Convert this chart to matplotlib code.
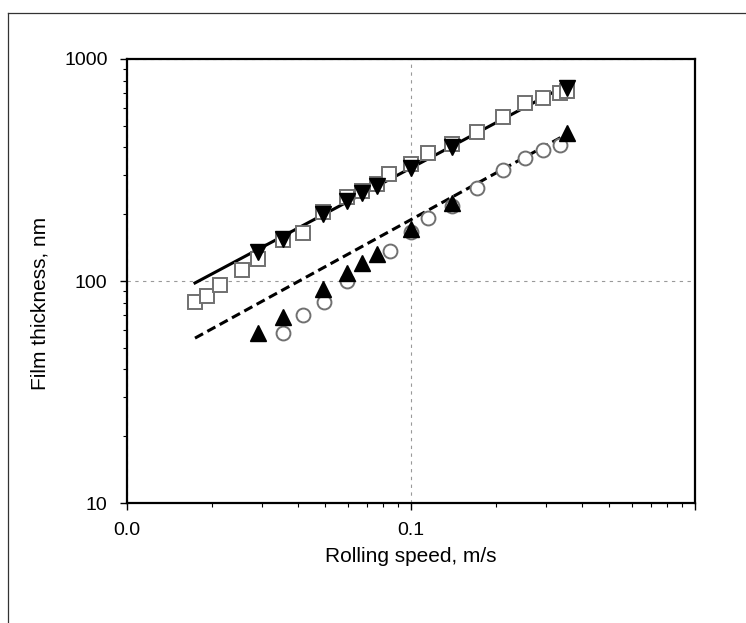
import numpy as np
import matplotlib
matplotlib.use('Agg')
import matplotlib.pyplot as plt
from matplotlib.lines import Line2D
from matplotlib.ticker import FixedLocator, FixedFormatter, LogLocator, NullFormatter

plt.rcParams['font.family'] = ['Liberation Sans', 'DejaVu Sans']

# open squares
sq_x = [0.01736, 0.01913, 0.02126, 0.02541, 0.02893, 0.03541, 0.04166, 0.04899, 0.05953,
        0.06723, 0.07593, 0.08366, 0.1, 0.1148, 0.1394, 0.1708, 0.2109, 0.2520, 0.2915, 0.3346, 0.3541]
sq_y = [80.4, 85.6, 95.9, 112.1, 125.7, 153.0, 164.5, 204.6, 238.9,
        254.3, 273.5, 303.4, 336.5, 377.2, 414.1, 469.1, 548.0, 633.7, 667.4, 700.0, 720.0]

# filled down triangles
dn_x = [0.02893, 0.03541, 0.04899, 0.05953, 0.06723, 0.07593, 0.1, 0.1394, 0.3541]
dn_y = [135.1, 154.6, 200.4, 229.3, 249.0, 267.9, 322.8, 401.5, 740.5]

# filled up triangles
up_x = [0.02893, 0.03541, 0.04899, 0.05953, 0.06723, 0.07593, 0.1, 0.1394, 0.3541]
up_y = [58.3, 68.8, 92.0, 108.6, 120.5, 132.3, 171.5, 224.6, 464.2]

# open circles
ci_x = [0.03541, 0.04166, 0.04941, 0.05953, 0.0843, 0.1, 0.1148, 0.1394, 0.1708,
        0.2109, 0.2520, 0.2915, 0.3346]
ci_y = [58.3, 70.3, 80.4, 100.0, 136.5, 166.3, 192.2, 217.7, 262.4,
        316.2, 358.1, 389.1, 409.9]

# fitted lines
fit1_x = [0.01736, 0.3541]
fit1_y = [98.0, 764.0]
fit2_x = [0.01736, 0.3541]
fit2_y = [55.3, 459.0]

fig = plt.figure(figsize=(7.46, 6.23), dpi=100)
ax = fig.add_axes([0.1702, 0.1926, 0.7614, 0.7127])

ax.set_xscale('log')
ax.set_yscale('log')
ax.set_xlim(0.01, 1)
ax.set_ylim(10, 1000)

ax.plot(fit1_x, fit1_y, color='black', lw=2.2, zorder=3)
ax.plot(fit2_x, fit2_y, color='black', lw=2.2, linestyle=(0, (3, 1.6)), zorder=3)

ax.plot(sq_x, sq_y, 's', ms=10.5, mfc='white', mec='#707070', mew=1.4, ls='none', zorder=4)
ax.plot(dn_x, dn_y, 'v', ms=11, color='black', ls='none', zorder=5)
ax.plot(ci_x, ci_y, 'o', ms=10, mfc='white', mec='#707070', mew=1.4, ls='none', zorder=4)
ax.plot(up_x, up_y, '^', ms=11, color='black', ls='none', zorder=5)

# axes ticks
ax.xaxis.set_major_locator(FixedLocator([0.01, 0.1, 1]))
ax.xaxis.set_major_formatter(FixedFormatter(['0.0', '0.1', '']))
ax.xaxis.set_minor_locator(LogLocator(base=10, subs=np.arange(2, 10)))
ax.xaxis.set_minor_formatter(NullFormatter())
ax.yaxis.set_major_locator(FixedLocator([10, 100, 1000]))
ax.yaxis.set_major_formatter(FixedFormatter(['10', '100', '1000']))
ax.yaxis.set_minor_locator(LogLocator(base=10, subs=np.arange(2, 10)))
ax.yaxis.set_minor_formatter(NullFormatter())

ax.tick_params(which='major', direction='out', length=5, width=1, labelsize=14, pad=9)
ax.tick_params(which='minor', direction='out', length=3, width=0.8)

ax.grid(True, which='major', color='#999999', linestyle=(0, (3, 4)), lw=0.8)
for s in ax.spines.values():
    s.set_linewidth(1.6)

ax.set_xlabel('Rolling speed, m/s', fontsize=15)
ax.set_ylabel('Film thickness, nm', fontsize=15)
ax.xaxis.set_label_coords(0.5, -0.10)
ax.yaxis.set_label_coords(-0.137, 0.45)

# scanned frame lines
fig.add_artist(Line2D([0.0107, 1.0], [0.979, 0.979], color='#333333', lw=0.9))
fig.add_artist(Line2D([0.0107, 0.0107], [0.0, 0.979], color='#333333', lw=0.9))

fig.savefig('out.png', dpi=100)
